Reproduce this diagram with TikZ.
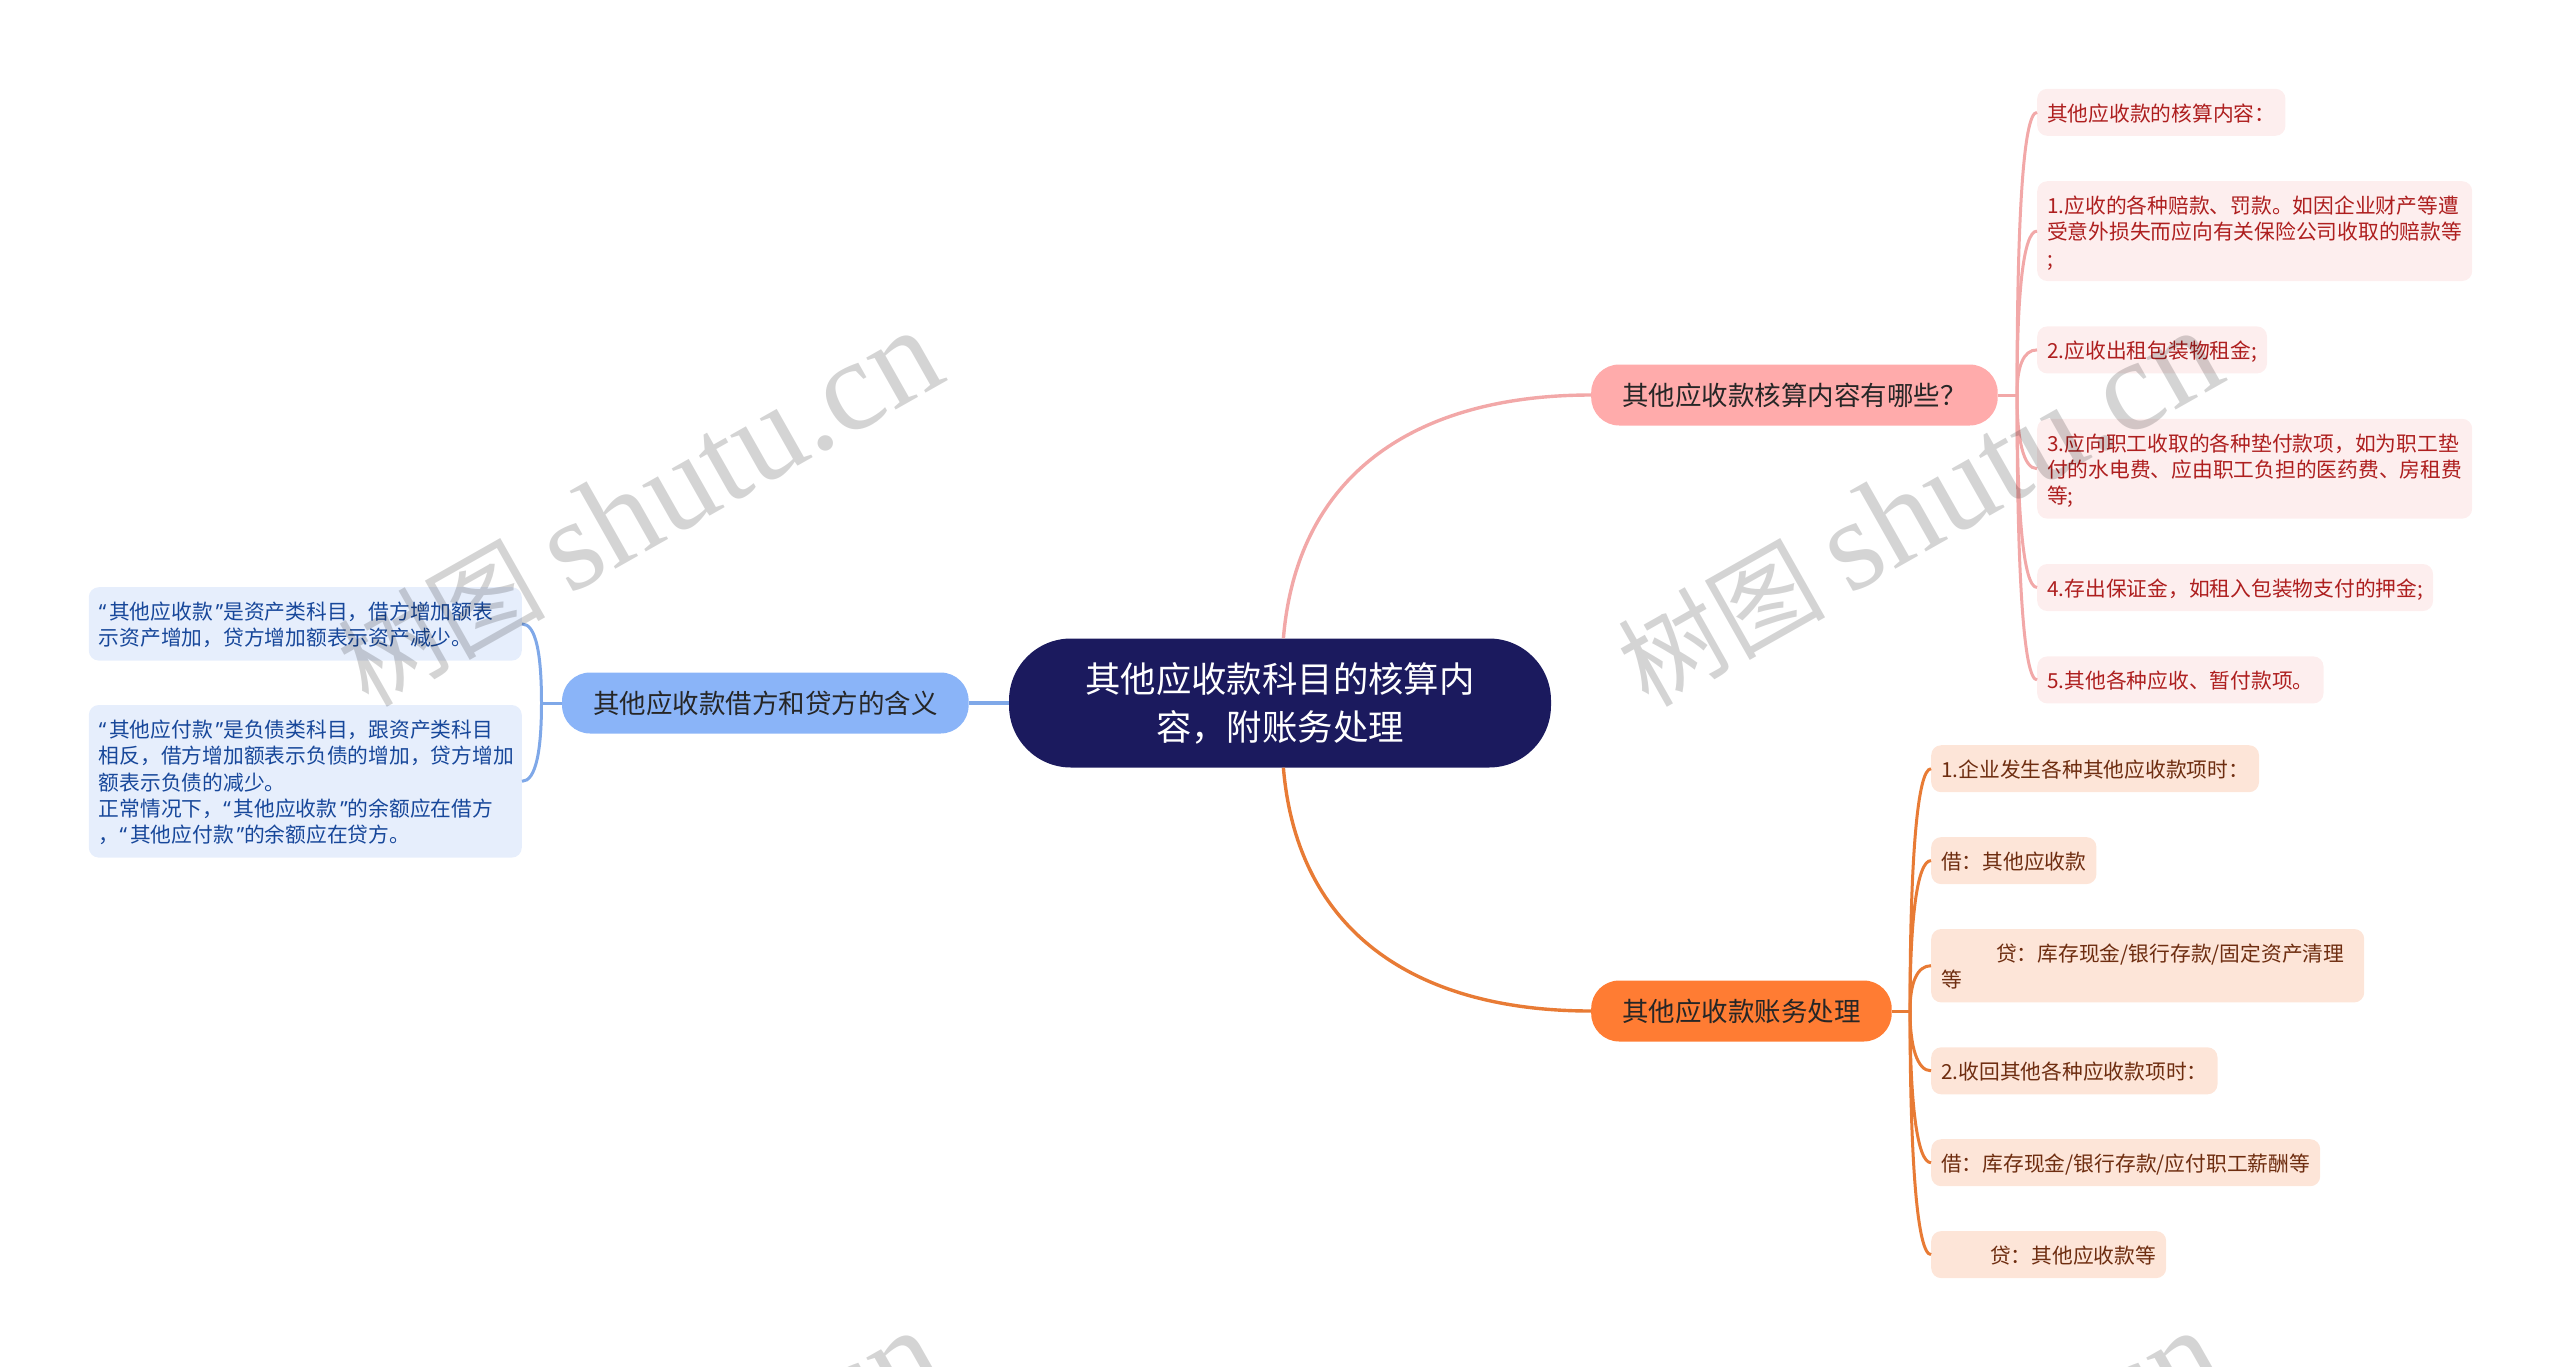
\documentclass[tikz,border=0pt]{standalone}
\usepackage{fontspec}
\setmainfont{Noto Sans CJK SC}
\newfontfamily\latinserif{Liberation Serif}
\newfontfamily\latinsans{Noto Sans}
\newcommand{\qopen}{{\latinsans “}\kern3pt}
\newcommand{\qclose}{\kern3pt{\latinsans ”}}
\newcommand{\leafstrut}{\rule[-4.4pt]{0pt}{26.4pt}}
\usetikzlibrary{positioning}

\definecolor{rootfill}{HTML}{1B1A5E}
\definecolor{redfill}{HTML}{FFABAB}
\definecolor{redline}{HTML}{F2A8A8}
\definecolor{redleaf}{HTML}{FDEEEE}
\definecolor{redtext}{HTML}{AE1F1F}
\definecolor{orangefill}{HTML}{FF7C33}
\definecolor{orangeline}{HTML}{E87B35}
\definecolor{orangeleaf}{HTML}{FDE5D8}
\definecolor{orangetext}{HTML}{6E2D10}
\definecolor{bluefill}{HTML}{8AB4F8}
\definecolor{blueline}{HTML}{7FA8E8}
\definecolor{blueleaf}{HTML}{E6EEFC}
\definecolor{bluetext}{HTML}{17479A}

\begin{document}
\begin{tikzpicture}[x=1pt,y=-1pt,
    root node/.style={fill=rootfill,text=white,rounded corners=62pt,minimum width=542pt,minimum height=129pt,
        align=center,font=\fontsize{35.4}{48}\selectfont},
    main node/.style={rounded corners=28pt,minimum height=61pt,inner xsep=31pt,inner ysep=0pt,
        text=black!85,font=\fontsize{26.5}{32}\selectfont},
    leaf node/.style={rounded corners=10pt,inner xsep=10pt,inner ysep=10.3pt,align=left,
        font=\fontsize{20.75}{26.4}\selectfont,execute at begin node=\leafstrut,execute at end node=\leafstrut},
    red leaf/.style={leaf node,fill=redleaf,text=redtext},
    orange leaf/.style={leaf node,fill=orangeleaf,text=orangetext},
    blue leaf/.style={leaf node,fill=blueleaf,text=bluetext,text width=413pt},
    water mark/.style={rotate=29.5,anchor=base west,text=black,text opacity=.17,inner sep=0pt},
    main edge/.style={line width=3.4pt},
    leaf edge/.style={line width=3pt}]

    \clip (0,0) rectangle (2560,1366);

    % Define vertices
    \node[root node] (root) at (1280,703) {其他应收款科目的核算内\\容，附账务处理};
    \node[main node,fill=redfill,anchor=west] (ra) at (1591,395) {其他应收款核算内容有哪些？};
    \node[main node,fill=orangefill,anchor=west] (rb) at (1591,1011) {其他应收款账务处理};
    \node[main node,fill=bluefill] (lc) [left=40pt of root] {其他应收款借方和贷方的含义};

    \node[red leaf,anchor=north west] (r0) at (2037,88.6) {其他应收款的核算内容：};
    \node[red leaf] (r1) [below=45pt of r0.south west,anchor=north west] {\leafstrut 1.应收的各种赔款、罚款。如因企业财产等遭\\受意外损失而应向有关保险公司收取的赔款等\\;};
    \node[red leaf] (r2) [below=45pt of r1.south west,anchor=north west] {2.应收出租包装物租金;};
    \node[red leaf] (r3) [below=45pt of r2.south west,anchor=north west] {\leafstrut 3.应向职工收取的各种垫付款项，如为职工垫\\付的水电费、应由职工负担的医药费、房租费\\等;};
    \node[red leaf] (r4) [below=45pt of r3.south west,anchor=north west] {4.存出保证金，如租入包装物支付的押金;};
    \node[red leaf] (r5) [below=45pt of r4.south west,anchor=north west] {5.其他各种应收、暂付款项。};

    \node[orange leaf,anchor=north west] (b0) at (1931,745) {1.企业发生各种其他应收款项时：};
    \node[orange leaf] (b1) [below=44.5pt of b0.south west,anchor=north west] {借：其他应收款};
    \node[orange leaf,text width=413pt] (b2) [below=44.5pt of b1.south west,anchor=north west] {\hspace*{55pt}贷：库存现金/银行存款/固定资产清理\\等};
    \node[orange leaf] (b3) [below=44.5pt of b2.south west,anchor=north west] {2.收回其他各种应收款项时：};
    \node[orange leaf] (b4) [below=44.5pt of b3.south west,anchor=north west] {借：库存现金/银行存款/应付职工薪酬等};
    \node[orange leaf] (b5) [below=44.5pt of b4.south west,anchor=north west] {\hspace*{49pt}贷：其他应收款等};

    \node[blue leaf,anchor=north east] (l0) at (522,587) {\qopen 其他应收款\qclose 是资产类科目，借方增加额表\\示资产增加，贷方增加额表示资产减少。};
    \node[blue leaf] (l1) [below=44pt of l0.south east,anchor=north east] {\qopen 其他应付款\qclose 是负债类科目，跟资产类科目\\相反，借方增加额表示负债的增加，贷方增加\\额表示负债的减少。\\正常情况下，\qopen 其他应收款\qclose 的余额应在借方\\，\qopen 其他应付款\qclose 的余额应在贷方。};

    \coordinate (ra fork) at (2017,395);
    \coordinate (rb fork) at (1910,1011);
    \coordinate (lc fork) at (541.5,703);

    % Draw edges
    \draw[main edge,redline] (root.87) .. controls +(14,-168) and +(-171,0) .. (ra.west);
    \draw[main edge,orangeline] (root.-87) .. controls +(14,168) and +(-171,0) .. (rb.west);
    \draw[main edge,blueline] (root.west) -- (lc.east);

    \draw[leaf edge,redline] (ra.east) -- (ra fork);
    \draw[leaf edge,redline] (ra fork) .. controls +(0,-171) and +(-14,0) .. (r0.west);
    \draw[leaf edge,redline] (ra fork) .. controls +(0,-99) and +(-14,0) .. (r1.west);
    \draw[leaf edge,redline] (ra fork) .. controls +(0,-28) and +(-14,0) .. (r2.west);
    \draw[leaf edge,redline] (ra fork) .. controls +(0,43) and +(-14,0) .. (r3.west);
    \draw[leaf edge,redline] (ra fork) .. controls +(0,114) and +(-14,0) .. (r4.west);
    \draw[leaf edge,redline] (ra fork) .. controls +(0,169) and +(-14,0) .. (r5.west);

    \draw[leaf edge,orangeline] (rb.east) -- (rb fork);
    \draw[leaf edge,orangeline] (rb fork) .. controls +(0,-146) and +(-14,0) .. (b0.west);
    \draw[leaf edge,orangeline] (rb fork) .. controls +(0,-91) and +(-14,0) .. (b1.west);
    \draw[leaf edge,orangeline] (rb fork) .. controls +(0,-28) and +(-14,0) .. (b2.west);
    \draw[leaf edge,orangeline] (rb fork) .. controls +(0,35) and +(-14,0) .. (b3.west);
    \draw[leaf edge,orangeline] (rb fork) .. controls +(0,91) and +(-14,0) .. (b4.west);
    \draw[leaf edge,orangeline] (rb fork) .. controls +(0,145) and +(-14,0) .. (b5.west);

    \draw[leaf edge,blueline] (lc.west) -- (lc fork);
    \draw[leaf edge,blueline] (lc fork) .. controls +(0,-49) and +(14,0) .. (l0.east);
    \draw[leaf edge,blueline] (lc fork) .. controls +(0,47) and +(14,0) .. (l1.east);

    % Watermarks
    \node[water mark] (wm a) at (368,709) {\fontsize{104}{104}\selectfont 树图 \latinserif\fontsize{130}{130}\selectfont shutu.cn};
    \node[water mark] (wm b) at (1648,709) {\fontsize{104}{104}\selectfont 树图 \latinserif\fontsize{130}{130}\selectfont shutu.cn};
    \node[water mark] (wm c) at (368,1709) {\fontsize{104}{104}\selectfont 树图 \latinserif\fontsize{130}{130}\selectfont shutu.cn};
    \node[water mark] (wm d) at (1648,1709) {\fontsize{104}{104}\selectfont 树图 \latinserif\fontsize{130}{130}\selectfont shutu.cn};
\end{tikzpicture}
\end{document}
